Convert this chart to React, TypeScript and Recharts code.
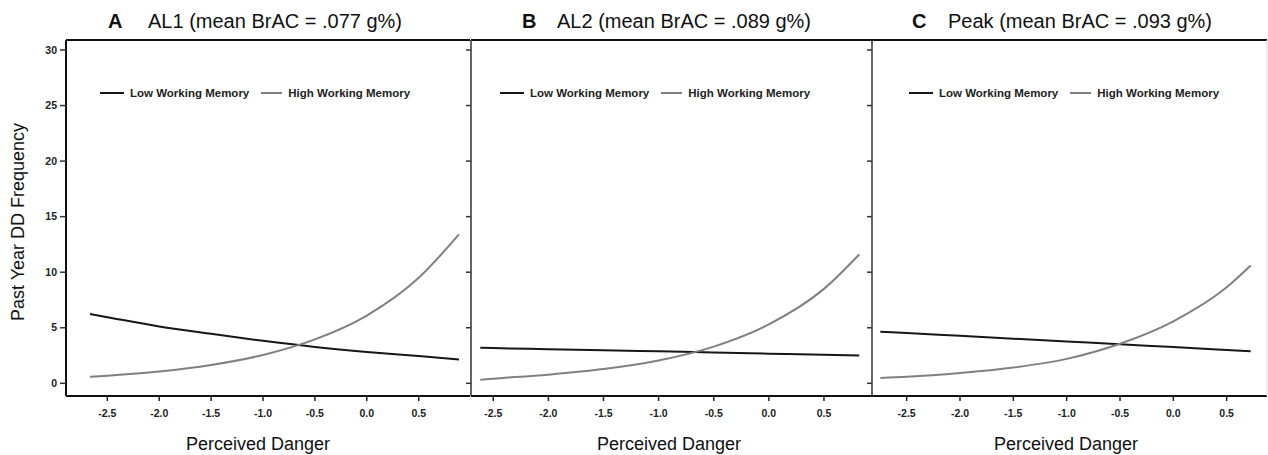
import React from 'react';
import { LineChart, Line, XAxis, YAxis, Legend } from 'recharts';

// ---- Data ----
const xTicks = [-2.5, -2.0, -1.5, -1.0, -0.5, 0.0, 0.5];
const yTicks = [0, 5, 10, 15, 20, 25, 30];

const panelTitles = ['AL1 (mean BrAC = .077 g%)', 'AL2 (mean BrAC = .089 g%)', 'Peak (mean BrAC = .093 g%)'];
const panelLetters = ['A', 'B', 'C'];
const seriesNames = ['Low Working Memory', 'High Working Memory'];

const dangerA = [-2.667, -2.5, -2.0, -1.5, -1.0, -0.5, 0.0, 0.5, 0.888];
const lowA = [6.23, 5.95, 5.12, 4.45, 3.82, 3.27, 2.82, 2.45, 2.15];
const highA = [0.58, 0.68, 1.06, 1.65, 2.55, 3.95, 6.1, 9.5, 13.4];

const dangerB = [-2.618, -2.5, -2.0, -1.5, -1.0, -0.5, 0.0, 0.5, 0.82];
const lowB = [3.19, 3.17, 3.07, 2.98, 2.88, 2.78, 2.67, 2.56, 2.5];
const highB = [0.33, 0.42, 0.78, 1.28, 2.05, 3.3, 5.3, 8.5, 11.6];

const dangerC = [-2.747, -2.5, -2.0, -1.5, -1.0, -0.5, 0.0, 0.5, 0.725];
const lowC = [4.64, 4.52, 4.27, 4.02, 3.77, 3.51, 3.26, 3.0, 2.89];
const highC = [0.48, 0.58, 0.92, 1.42, 2.2, 3.56, 5.58, 8.64, 10.6];

const toRows = (xs: number[], low: number[], high: number[]) =>
  xs.map((x, i) => ({ x, low: low[i], high: high[i] }));

const FONT = '"Liberation Sans", Arial, Helvetica, sans-serif';
const LOW_COLOR = '#161616';
const HIGH_COLOR = '#808080';
const Y_DOMAIN: [number, number] = [-1.143, 30.9];

const LegendContent = (props: any) => {
  const items = [...(props.payload || [])].sort(
    (a: any, b: any) => seriesNames.indexOf(a.value) - seriesNames.indexOf(b.value)
  );
  return (
    <div style={{ display: 'flex', alignItems: 'center', fontFamily: FONT, fontSize: 11.5, fontWeight: 700, color: '#222', whiteSpace: 'nowrap' }}>
      {items.map((it: any, i: number) => (
        <div key={i} style={{ display: 'flex', alignItems: 'center', marginRight: 12 }}>
          <div style={{ width: i === 0 ? 24 : 21, height: 2, background: it.color, marginRight: 6 }} />
          <span>{it.value}</span>
        </div>
      ))}
    </div>
  );
};

type PanelProps = {
  left: number;
  width: number;
  yAxisWidth: number;
  labels: boolean;
  xDomain: [number, number];
  data: any[];
  legendLeft: number;
  rightBorder: boolean;
};

const Panel = ({ left, width, yAxisWidth, labels, xDomain, data, legendLeft, rightBorder }: PanelProps) => (
  <div style={{ position: 'absolute', left, top: 0 }}>
    <LineChart width={width} height={455} data={data} margin={{ top: 39, right: 0, bottom: 0, left: 0 }}>
      <XAxis
        dataKey="x"
        type="number"
        domain={xDomain}
        ticks={xTicks}
        allowDataOverflow
        height={59}
        tickFormatter={(v: number) => v.toFixed(1)}
        tick={{ fontFamily: FONT, fontSize: 10.5, fontWeight: 700, fill: '#222' }}
        tickSize={5}
        tickMargin={9}
        axisLine={{ stroke: '#111', strokeWidth: 2 }}
        tickLine={{ stroke: '#222', strokeWidth: 1.5 }}
      />
      <XAxis
        xAxisId="top"
        orientation="top"
        dataKey="x"
        type="number"
        domain={xDomain}
        allowDataOverflow
        height={1}
        tick={false}
        tickLine={false}
        axisLine={{ stroke: '#111', strokeWidth: 2 }}
      />
      <YAxis
        type="number"
        domain={Y_DOMAIN}
        ticks={yTicks}
        allowDataOverflow
        width={yAxisWidth}
        tickSize={labels ? 6 : 5}
        tickMargin={3}
        tickFormatter={labels ? (v: number) => String(v) : () => ''}
        tick={{ fontFamily: FONT, fontSize: 10.5, fontWeight: 700, fill: '#222' }}
        axisLine={{ stroke: labels ? '#111' : '#333', strokeWidth: labels ? 2 : 1.5 }}
        tickLine={{ stroke: '#333', strokeWidth: 1.5 }}
      />
      {rightBorder && (
        <YAxis
          yAxisId="right"
          orientation="right"
          type="number"
          domain={Y_DOMAIN}
          width={1}
          tick={false}
          tickLine={false}
          axisLine={{ stroke: '#d8d8d8', strokeWidth: 1 }}
        />
      )}
      <Legend
        layout="horizontal"
        verticalAlign="middle"
        align="center"
        content={LegendContent}
        wrapperStyle={{ position: 'absolute', top: 87, left: legendLeft, width: 'auto' }}
      />
      <Line type="monotone" dataKey="low" name={seriesNames[0]} stroke={LOW_COLOR} strokeWidth={2} dot={false} activeDot={false} isAnimationActive={false} />
      <Line type="monotone" dataKey="high" name={seriesNames[1]} stroke={HIGH_COLOR} strokeWidth={2} dot={false} activeDot={false} isAnimationActive={false} />
    </LineChart>
  </div>
);

const titlePos = [
  { letter: 108, text: 148 },
  { letter: 522, text: 557 },
  { letter: 912, text: 948 },
];
const xLabelCenters = [258, 669, 1066];

export default function App() {
  return (
    <div style={{ position: 'absolute', left: 0, top: 0, width: 1268, height: 455, background: '#fff', overflow: 'hidden', fontFamily: FONT, color: '#111' }}>
      <Panel left={0} width={470} yAxisWidth={66} labels xDomain={[-2.898, 0.994]} data={toRows(dangerA, lowA, highA)} legendLeft={100} rightBorder={false} />
      <Panel left={461} width={411} yAxisWidth={10} labels={false} xDomain={[-2.702, 0.936]} data={toRows(dangerB, lowB, highB)} legendLeft={39} rightBorder={false} />
      <Panel left={862} width={406} yAxisWidth={10} labels={false} xDomain={[-2.825, 0.878]} data={toRows(dangerC, lowC, highC)} legendLeft={47} rightBorder />

      {panelTitles.map((t, i) => (
        <React.Fragment key={t}>
          <div style={{ position: 'absolute', left: titlePos[i].letter, top: 10, fontSize: 20, fontWeight: 700, whiteSpace: 'nowrap' }}>{panelLetters[i]}</div>
          <div style={{ position: 'absolute', left: titlePos[i].text, top: 10, fontSize: 20, whiteSpace: 'nowrap' }}>{t}</div>
        </React.Fragment>
      ))}

      {xLabelCenters.map((cx, i) => (
        <div key={i} style={{ position: 'absolute', left: cx, top: 434, transform: 'translateX(-50%)', fontSize: 18, whiteSpace: 'nowrap' }}>Perceived Danger</div>
      ))}

      <div style={{ position: 'absolute', left: 17.8, top: 222, transform: 'translate(-50%, -50%) rotate(-90deg)', fontSize: 18, whiteSpace: 'nowrap' }}>Past Year DD Frequency</div>
    </div>
  );
}
